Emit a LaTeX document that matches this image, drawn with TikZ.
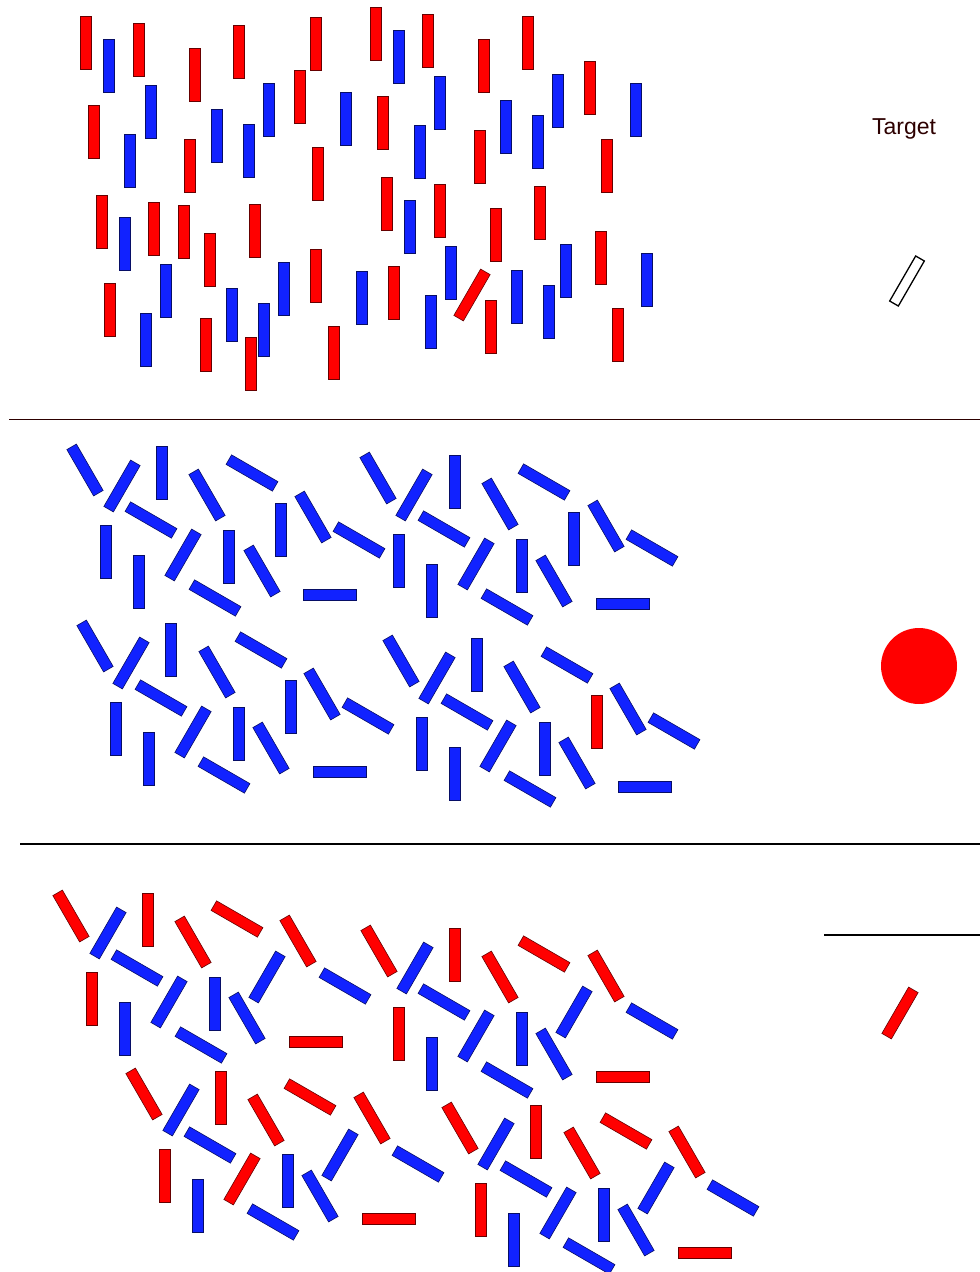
\documentclass[tikz,border=0pt]{standalone}
\usepackage{fontspec}
\setmainfont{Liberation Sans}
\usetikzlibrary{positioning}
\definecolor{BarRed}{RGB}{255,0,0}
\definecolor{BarBlue}{RGB}{17,34,255}
\definecolor{DarkLine}{RGB}{45,0,0}
\tikzset{
  rbar/.style={draw=BarRed!40!black,fill=BarRed,minimum width=11pt,
               minimum height=53.5pt,inner sep=0pt,line width=0.6pt},
  bbar/.style={draw=BarBlue!40!black,fill=BarBlue,minimum width=11pt,
               minimum height=53.5pt,inner sep=0pt,line width=0.6pt},
  obar/.style={draw=black,fill=white,minimum width=10pt,
               minimum height=52pt,inner sep=0pt,line width=1.3pt},
  sepline/.style={DarkLine,line width=1.8pt},
}

\begin{document}
\begin{tikzpicture}[x=1pt,y=-1pt]
  \useasboundingbox (0,0) rectangle (980,1272);
  % top panel: upright bars
  \foreach \x/\y [count=\i] in {86/43,139/50,195/75,239/52,316/44,94/132,
      190/166,300/97,318/174,102/222,154/229,184/232,210/260,255/231,
      316/276,110/310,206/345,251/364,334/353,376/34,428/41,484/66,
      528/43,383/123,480/157,590/88,607/166,387/204,440/211,496/235,
      540/213,394/293,491/327,601/258,618/335}
    \node[rbar] (ra\i) at (\x,\y) {};
  \foreach \x/\y [count=\i] in {109/66,151/112,130/161,217/136,249/151,
      269/110,346/119,125/244,166/291,146/340,232/315,264/330,284/289,
      362/298,399/57,440/103,420/152,506/127,538/142,558/101,636/110,
      410/227,451/273,431/322,517/297,549/312,566/271,647/280}
    \node[bbar] (ba\i) at (\x,\y) {};
  \node[rbar,rotate=-30] (odd) at (472,295) {};
  \node[anchor=base,text=DarkLine,font=\fontsize{23}{27}\selectfont]
    (target) at (904,134.5) {Target};
  \node[obar,rotate=-30] (tbar) at (907,281) {};
  \draw[sepline] (9,419.5) -- (980,419.5);

  % middle panel: oriented bars
  \foreach \x/\y/\a [count=\i] in {85/470/30,122/486/-30,162/473/0,
      207/495/30,252/473/60,281/530/0,313/517/30,359/540/60,151/520/60,
      106/552/0,139/582/0,183/555/-30,229/557/0,262/571/30,215/598/60,
      330/595/90,95/646/30,131/663/-30,171/650/0,217/672/30,261/650/60,
      291/707/0,322/694/30,368/716/60,161/698/60,116/729/0,149/759/0,
      193/732/-30,239/734/0,271/748/30,224/775/60,340/772/90,
      378/478/30,414/495/-30,455/482/0,500/504/30,544/482/60,574/539/0,
      606/526/30,652/548/60,444/529/60,399/561/0,432/591/0,476/564/-30,
      522/566/0,554/581/30,507/607/60,623/604/90,401/661/30,437/678/-30,
      477/665/0,522/687/30,567/665/60,628/709/30,674/731/60,467/712/60,
      422/744/0,455/774/0,498/746/-30,545/749/0,577/763/30,530/789/60,
      645/787/90}
    \node[bbar,rotate=\a] (bb\i) at (\x,\y) {};
  \node[rbar] (rb1) at (597,722) {};
  \node[circle,fill=BarRed,minimum size=76pt,inner sep=0pt] (dot) at (919,666) {};
  \draw[sepline,black] (20,844) -- (980,844);

  % bottom panel: mixed bars
  \foreach \x/\y/\a [count=\i] in {71/916/30,148/920/0,193/942/30,
      237/919/60,298/941/30,379/951/30,92/999/0,316/1042/90,144/1094/30,
      221/1098/0,266/1120/30,310/1097/60,372/1118/30,165/1176/0,
      242/1179/-30,389/1219/90,455/955/0,500/977/30,544/954/60,
      606/976/30,399/1034/0,623/1077/90,460/1128/30,536/1132/0,
      582/1153/30,626/1131/60,687/1152/30,481/1210/0,705/1253/90}
    \node[rbar,rotate=\a] (rc\i) at (\x,\y) {};
  \foreach \x/\y/\a [count=\i] in {108/933/-30,137/968/60,125/1029/0,
      169/1002/-30,215/1004/0,267/977/-30,247/1018/30,345/986/60,
      201/1045/60,181/1110/-30,210/1145/60,340/1155/-30,198/1206/0,
      288/1181/0,320/1196/30,273/1222/60,415/968/-30,444/1002/60,
      432/1064/0,476/1036/-30,522/1039/0,574/1012/-30,554/1054/30,
      652/1021/60,507/1080/60,418/1164/60,496/1144/-30,526/1179/60,
      558/1213/-30,604/1215/0,656/1188/-30,733/1198/60,514/1240/0,
      636/1230/30,589/1256/60}
    \node[bbar,rotate=\a] (bc\i) at (\x,\y) {};
  \draw[sepline,black] (824,935) -- (980,935);
  \node[rbar,rotate=-30] (pick) at (900,1013) {};
\end{tikzpicture}
\end{document}
